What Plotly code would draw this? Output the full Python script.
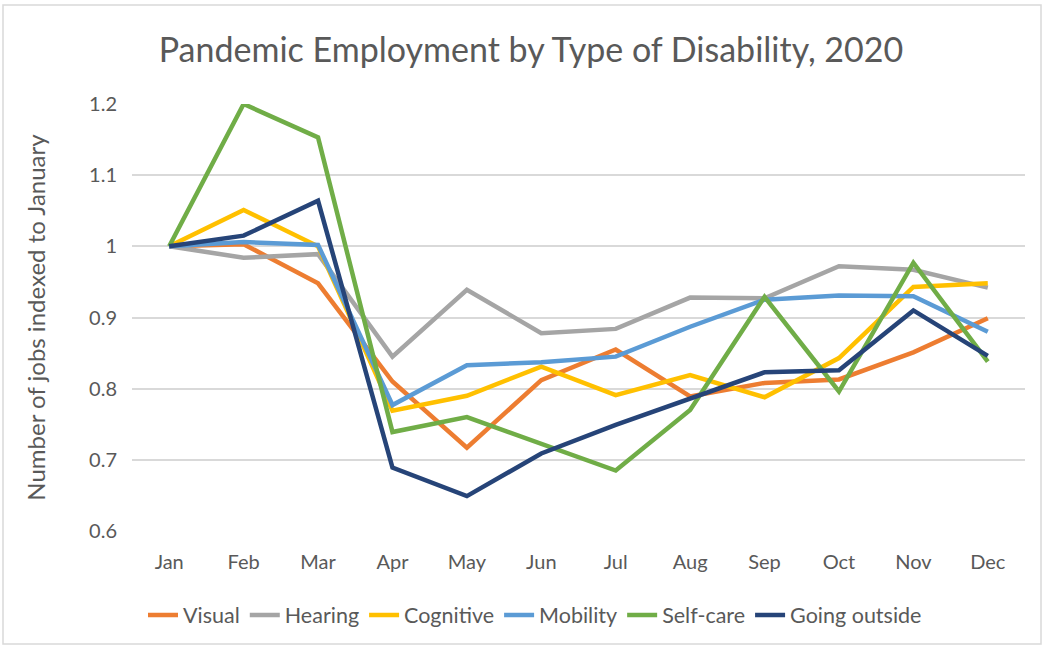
import plotly.graph_objects as go

months = ["Jan", "Feb", "Mar", "Apr", "May", "Jun", "Jul", "Aug", "Sep", "Oct", "Nov", "Dec"]

visual = [1.000, 1.003, 0.948, 0.810, 0.717, 0.812, 0.855, 0.789, 0.808, 0.813, 0.851, 0.899]
hearing = [1.000, 0.984, 0.989, 0.845, 0.939, 0.878, 0.884, 0.928, 0.927, 0.972, 0.967, 0.942]
cognitive = [1.000, 1.051, 1.000, 0.769, 0.790, 0.831, 0.791, 0.819, 0.788, 0.843, 0.943, 0.948]
mobility = [1.000, 1.006, 1.002, 0.777, 0.833, 0.837, 0.845, 0.887, 0.925, 0.931, 0.930, 0.880]
self_care = [1.000, 1.200, 1.153, 0.739, 0.760, 0.723, 0.685, 0.770, 0.929, 0.796, 0.977, 0.838]
going_outside = [1.000, 1.015, 1.064, 0.689, 0.649, 0.709, 0.749, 0.786, 0.823, 0.826, 0.910, 0.846]

series = [
    ("Visual", visual, "#ED7D31"),
    ("Hearing", hearing, "#A5A5A5"),
    ("Cognitive", cognitive, "#FFC000"),
    ("Mobility", mobility, "#5B9BD5"),
    ("Self-care", self_care, "#70AD47"),
    ("Going outside", going_outside, "#264478"),
]

FONT = "Lato"
TEXT = "#595959"

fig = go.Figure()
for name, vals, color in series:
    fig.add_trace(go.Scatter(
        x=months, y=vals, name=name, mode="lines",
        line=dict(color=color, width=4.5),
    ))

# plot-area geometry in pixels, used to place the outer chart border
L, R, T, B = 132, 1025, 104, 531
W, H = R - L, B - T

fig.update_layout(
    width=1045, height=647,
    margin=dict(l=L, r=1045 - R, t=T, b=647 - B, autoexpand=False),
    paper_bgcolor="white", plot_bgcolor="white",
    font=dict(family=FONT, color=TEXT),
    title=dict(
        text="Pandemic Employment by Type of Disability, 2020",
        x=531 / 1045, xref="container", xanchor="center",
        y=1 - 50 / 647, yanchor="middle",
        font=dict(size=34, color=TEXT, family=FONT),
    ),
    xaxis=dict(
        type="category", range=[-0.5, 11.5], automargin=False,
        showgrid=False, showline=False, zeroline=False,
        ticks="", tickfont=dict(size=20, color=TEXT), ticklabelstandoff=17,
        tickangle=0,
    ),
    yaxis=dict(
        range=[0.6, 1.2], tickvals=[0.6, 0.7, 0.8, 0.9, 1.0, 1.1, 1.2],
        ticktext=["0.6", "0.7", "0.8", "0.9", "1", "1.1", "1.2"], automargin=False,
        showgrid=True, gridcolor="#D9D9D9", gridwidth=2,
        zeroline=False, showline=False, ticks="",
        tickfont=dict(size=20, color=TEXT), ticklabelstandoff=14,
        title=dict(text="Number of jobs indexed to January",
                   font=dict(size=24, color=TEXT), standoff=36),
    ),
    legend=dict(
        orientation="h", xref="paper", x=(535 - L) / W, xanchor="center",
        y=-(615 - B) / H, yanchor="middle",
        font=dict(size=21.5, color=TEXT), itemwidth=30, tracegroupgap=0,
        bgcolor="rgba(0,0,0,0)",
    ),
    shapes=[dict(
        type="rect", xref="paper", yref="paper",
        x0=(3 - L) / W, x1=(1041 - L) / W,
        y0=(B - 644) / H, y1=(B - 5) / H,
        line=dict(color="#D9D9D9", width=1.5), fillcolor="rgba(0,0,0,0)", layer="below",
    )],
)

fig.write_html("out.html")
